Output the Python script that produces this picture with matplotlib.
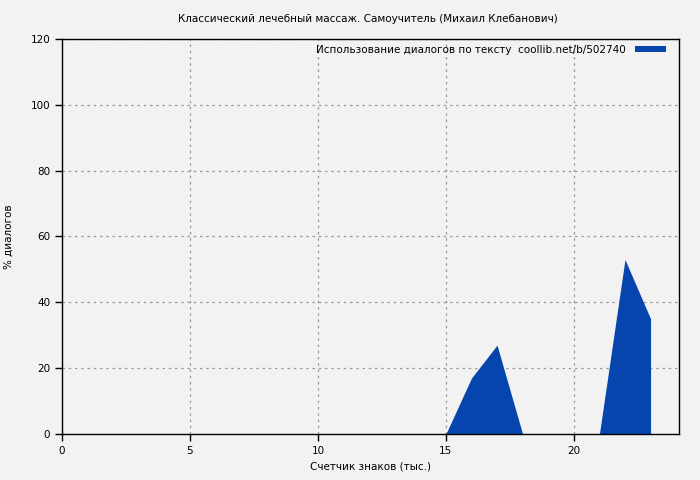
"""Dialogue usage chart"""

import matplotlib
matplotlib.use('Agg')
import matplotlib.pyplot as plt
from matplotlib.patches import Patch

title = 'Классический лечебный массаж. Самоучитель (Михаил Клебанович)'
series_label = 'Использование диалогов по тексту  coollib.net/b/502740'

x_vals = [15, 16, 17, 18, 19, 20, 21, 22, 23]
y_vals = [0, 17, 27, 0, 0, 0, 0, 53, 35]

x_ticks = [0, 5, 10, 15, 20]
y_ticks = [0, 20, 40, 60, 80, 100, 120]


def main():
    plt.rcParams['font.family'] = ['DejaVu Sans']
    plt.rcParams['font.size'] = 7.5

    bg = '#f2f2f2'
    blue = '#0645ad'

    fig = plt.figure(figsize=(7, 4.8), dpi=100, facecolor=bg)
    ax = fig.add_axes([0.0886, 0.0958, 0.881, 0.823], facecolor=bg)
    ax.set_axisbelow(True)

    ax.fill_between(x_vals, y_vals, 0, color=blue, linewidth=0, zorder=2)

    ax.set_xlim(0, 24.1)
    ax.set_ylim(0, 120)
    ax.set_xticks(x_ticks)
    ax.set_yticks(y_ticks)
    ax.tick_params(direction='out', length=5, width=1, colors='black', labelsize=7.5)
    ax.grid(True, color='#999999', linestyle=(0, (2, 3)), linewidth=0.9)
    for s in ax.spines.values():
        s.set_linewidth(1)
        s.set_zorder(3)

    ax.set_xlabel('Счетчик знаков (тыс.)', fontsize=7.5)
    ax.set_ylabel('% диалогов', fontsize=7.5, labelpad=12)
    fig.text(0.525, 0.961, title, ha='center', va='center', fontsize=7.5)

    handle = Patch(facecolor=blue, edgecolor='none')
    ax.legend([handle], [series_label], loc='upper right', frameon=False,
              bbox_to_anchor=(1.0, 1.016),
              markerfirst=False, fontsize=7.5, handlelength=3.0, handleheight=0.5,
              borderaxespad=0.8, handletextpad=0.9)

    fig.savefig('out.png', dpi=100, facecolor=bg)


if __name__ == "__main__":
    main()
